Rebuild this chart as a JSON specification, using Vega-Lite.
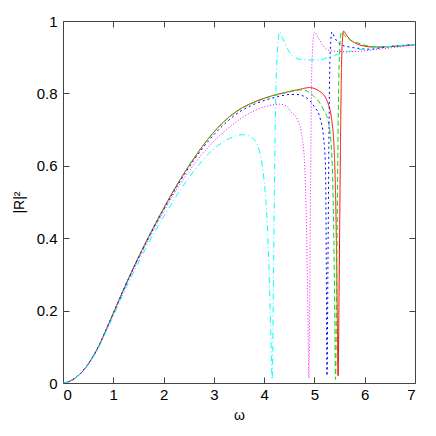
{
  "$schema": "https://vega.github.io/schema/vega-lite/v6.json",
  "width": 352,
  "height": 362,
  "autosize": "none",
  "padding": {"left": 63, "top": 21, "right": 21, "bottom": 53},
  "background": "white",
  "config": {
    "view": {"stroke": "#444444", "strokeWidth": 1},
    "axis": {
      "grid": false,
      "domain": false,
      "tickColor": "#444444",
      "tickSize": -6,
      "labelFont": "Liberation Sans",
      "labelFontSize": 15,
      "labelColor": "#000000",
      "titleFont": "Liberation Sans",
      "titleFontSize": 14,
      "titleFontWeight": "normal",
      "titleColor": "#000000"
    }
  },
  "datasets": {
    "curves": [
      {"s": "a", "w": 0, "r": 0}, {"s": "a", "w": 0.1, "r": 0.003}, {"s": "a", "w": 0.2, "r": 0.01}, {"s": "a", "w": 0.3, "r": 0.02}, {"s": "a", "w": 0.4, "r": 0.034}, {"s": "a", "w": 0.5, "r": 0.052}, {"s": "a", "w": 0.6, "r": 0.074}, {"s": "a", "w": 0.7, "r": 0.099}, {"s": "a", "w": 0.85, "r": 0.145}, {"s": "a", "w": 1.0, "r": 0.193}, {"s": "a", "w": 1.2, "r": 0.257}, {"s": "a", "w": 1.4, "r": 0.318}, {"s": "a", "w": 1.7, "r": 0.403}, {"s": "a", "w": 2.0, "r": 0.482}, {"s": "a", "w": 2.3, "r": 0.555}, {"s": "a", "w": 2.6, "r": 0.62}, {"s": "a", "w": 2.9, "r": 0.677}, {"s": "a", "w": 3.2, "r": 0.722}, {"s": "a", "w": 3.5, "r": 0.755}, {"s": "a", "w": 3.8, "r": 0.776}, {"s": "a", "w": 4.1, "r": 0.791}, {"s": "a", "w": 4.4, "r": 0.802}, {"s": "a", "w": 4.7, "r": 0.811}, {"s": "a", "w": 4.9, "r": 0.816}, {"s": "a", "w": 5.1, "r": 0.806}, {"s": "a", "w": 5.25, "r": 0.78}, {"s": "a", "w": 5.35, "r": 0.72}, {"s": "a", "w": 5.4, "r": 0.62}, {"s": "a", "w": 5.43, "r": 0.45}, {"s": "a", "w": 5.45, "r": 0.25}, {"s": "a", "w": 5.47, "r": 0.02}, {"s": "a", "w": 5.49, "r": 0.25}, {"s": "a", "w": 5.51, "r": 0.55}, {"s": "a", "w": 5.53, "r": 0.8}, {"s": "a", "w": 5.55, "r": 0.93}, {"s": "a", "w": 5.58, "r": 0.972}, {"s": "a", "w": 5.62, "r": 0.965}, {"s": "a", "w": 5.7, "r": 0.95}, {"s": "a", "w": 5.8, "r": 0.94}, {"s": "a", "w": 5.95, "r": 0.932}, {"s": "a", "w": 6.2, "r": 0.928}, {"s": "a", "w": 6.6, "r": 0.93}, {"s": "a", "w": 7.0, "r": 0.935},

      {"s": "b", "w": 0, "r": 0}, {"s": "b", "w": 0.1, "r": 0.003}, {"s": "b", "w": 0.2, "r": 0.01}, {"s": "b", "w": 0.3, "r": 0.02}, {"s": "b", "w": 0.4, "r": 0.034}, {"s": "b", "w": 0.5, "r": 0.052}, {"s": "b", "w": 0.6, "r": 0.074}, {"s": "b", "w": 0.7, "r": 0.099}, {"s": "b", "w": 0.85, "r": 0.145}, {"s": "b", "w": 1.0, "r": 0.193}, {"s": "b", "w": 1.2, "r": 0.257}, {"s": "b", "w": 1.4, "r": 0.318}, {"s": "b", "w": 1.7, "r": 0.403}, {"s": "b", "w": 2.0, "r": 0.482}, {"s": "b", "w": 2.3, "r": 0.555}, {"s": "b", "w": 2.6, "r": 0.62}, {"s": "b", "w": 2.9, "r": 0.676}, {"s": "b", "w": 3.2, "r": 0.721}, {"s": "b", "w": 3.5, "r": 0.754}, {"s": "b", "w": 3.8, "r": 0.775}, {"s": "b", "w": 4.1, "r": 0.79}, {"s": "b", "w": 4.4, "r": 0.801}, {"s": "b", "w": 4.6, "r": 0.807}, {"s": "b", "w": 4.75, "r": 0.81}, {"s": "b", "w": 4.99, "r": 0.792}, {"s": "b", "w": 5.18, "r": 0.755}, {"s": "b", "w": 5.28, "r": 0.719}, {"s": "b", "w": 5.35, "r": 0.617}, {"s": "b", "w": 5.38, "r": 0.45}, {"s": "b", "w": 5.4, "r": 0.25}, {"s": "b", "w": 5.42, "r": 0.01}, {"s": "b", "w": 5.44, "r": 0.25}, {"s": "b", "w": 5.46, "r": 0.55}, {"s": "b", "w": 5.48, "r": 0.8}, {"s": "b", "w": 5.51, "r": 0.94}, {"s": "b", "w": 5.54, "r": 0.97}, {"s": "b", "w": 5.6, "r": 0.96}, {"s": "b", "w": 5.7, "r": 0.948}, {"s": "b", "w": 5.85, "r": 0.94}, {"s": "b", "w": 6.0, "r": 0.933}, {"s": "b", "w": 6.3, "r": 0.928}, {"s": "b", "w": 6.6, "r": 0.93}, {"s": "b", "w": 7.0, "r": 0.935},

      {"s": "c", "w": 0, "r": 0}, {"s": "c", "w": 0.1, "r": 0.003}, {"s": "c", "w": 0.2, "r": 0.01}, {"s": "c", "w": 0.3, "r": 0.02}, {"s": "c", "w": 0.4, "r": 0.034}, {"s": "c", "w": 0.5, "r": 0.052}, {"s": "c", "w": 0.6, "r": 0.074}, {"s": "c", "w": 0.7, "r": 0.099}, {"s": "c", "w": 0.85, "r": 0.145}, {"s": "c", "w": 1.0, "r": 0.192}, {"s": "c", "w": 1.2, "r": 0.256}, {"s": "c", "w": 1.4, "r": 0.317}, {"s": "c", "w": 1.7, "r": 0.401}, {"s": "c", "w": 2.0, "r": 0.479}, {"s": "c", "w": 2.3, "r": 0.551}, {"s": "c", "w": 2.6, "r": 0.615}, {"s": "c", "w": 2.9, "r": 0.67}, {"s": "c", "w": 3.2, "r": 0.714}, {"s": "c", "w": 3.5, "r": 0.748}, {"s": "c", "w": 3.8, "r": 0.77}, {"s": "c", "w": 4.06, "r": 0.783}, {"s": "c", "w": 4.3, "r": 0.792}, {"s": "c", "w": 4.52, "r": 0.797}, {"s": "c", "w": 4.65, "r": 0.797}, {"s": "c", "w": 4.79, "r": 0.792}, {"s": "c", "w": 4.99, "r": 0.765}, {"s": "c", "w": 5.12, "r": 0.728}, {"s": "c", "w": 5.18, "r": 0.68}, {"s": "c", "w": 5.22, "r": 0.6}, {"s": "c", "w": 5.235, "r": 0.35}, {"s": "c", "w": 5.25, "r": 0.02}, {"s": "c", "w": 5.27, "r": 0.35}, {"s": "c", "w": 5.29, "r": 0.7}, {"s": "c", "w": 5.31, "r": 0.9}, {"s": "c", "w": 5.35, "r": 0.97}, {"s": "c", "w": 5.4, "r": 0.955}, {"s": "c", "w": 5.52, "r": 0.935}, {"s": "c", "w": 5.7, "r": 0.928}, {"s": "c", "w": 5.85, "r": 0.925}, {"s": "c", "w": 6.1, "r": 0.922}, {"s": "c", "w": 6.4, "r": 0.928}, {"s": "c", "w": 7.0, "r": 0.935},

      {"s": "d", "w": 0, "r": 0}, {"s": "d", "w": 0.1, "r": 0.003}, {"s": "d", "w": 0.2, "r": 0.01}, {"s": "d", "w": 0.3, "r": 0.02}, {"s": "d", "w": 0.4, "r": 0.033}, {"s": "d", "w": 0.5, "r": 0.051}, {"s": "d", "w": 0.6, "r": 0.073}, {"s": "d", "w": 0.7, "r": 0.098}, {"s": "d", "w": 0.85, "r": 0.143}, {"s": "d", "w": 1.0, "r": 0.19}, {"s": "d", "w": 1.2, "r": 0.253}, {"s": "d", "w": 1.4, "r": 0.313}, {"s": "d", "w": 1.7, "r": 0.396}, {"s": "d", "w": 2.0, "r": 0.473}, {"s": "d", "w": 2.3, "r": 0.543}, {"s": "d", "w": 2.6, "r": 0.603}, {"s": "d", "w": 2.9, "r": 0.653}, {"s": "d", "w": 3.2, "r": 0.694}, {"s": "d", "w": 3.5, "r": 0.727}, {"s": "d", "w": 3.8, "r": 0.752}, {"s": "d", "w": 4.06, "r": 0.765}, {"s": "d", "w": 4.3, "r": 0.77}, {"s": "d", "w": 4.45, "r": 0.765}, {"s": "d", "w": 4.52, "r": 0.751}, {"s": "d", "w": 4.66, "r": 0.728}, {"s": "d", "w": 4.76, "r": 0.673}, {"s": "d", "w": 4.8, "r": 0.617}, {"s": "d", "w": 4.84, "r": 0.45}, {"s": "d", "w": 4.87, "r": 0.2}, {"s": "d", "w": 4.89, "r": 0.014}, {"s": "d", "w": 4.91, "r": 0.3}, {"s": "d", "w": 4.93, "r": 0.65}, {"s": "d", "w": 4.95, "r": 0.88}, {"s": "d", "w": 5.0, "r": 0.97}, {"s": "d", "w": 5.05, "r": 0.96}, {"s": "d", "w": 5.18, "r": 0.93}, {"s": "d", "w": 5.32, "r": 0.918}, {"s": "d", "w": 5.7, "r": 0.915}, {"s": "d", "w": 6.2, "r": 0.921}, {"s": "d", "w": 6.6, "r": 0.927}, {"s": "d", "w": 7.0, "r": 0.933},

      {"s": "e", "w": 0, "r": 0}, {"s": "e", "w": 0.1, "r": 0.003}, {"s": "e", "w": 0.2, "r": 0.01}, {"s": "e", "w": 0.3, "r": 0.019}, {"s": "e", "w": 0.4, "r": 0.032}, {"s": "e", "w": 0.5, "r": 0.05}, {"s": "e", "w": 0.6, "r": 0.071}, {"s": "e", "w": 0.7, "r": 0.095}, {"s": "e", "w": 0.85, "r": 0.139}, {"s": "e", "w": 1.0, "r": 0.185}, {"s": "e", "w": 1.2, "r": 0.247}, {"s": "e", "w": 1.4, "r": 0.305}, {"s": "e", "w": 1.7, "r": 0.386}, {"s": "e", "w": 2.0, "r": 0.459}, {"s": "e", "w": 2.3, "r": 0.526}, {"s": "e", "w": 2.6, "r": 0.585}, {"s": "e", "w": 2.93, "r": 0.638}, {"s": "e", "w": 3.2, "r": 0.667}, {"s": "e", "w": 3.4, "r": 0.681}, {"s": "e", "w": 3.59, "r": 0.686}, {"s": "e", "w": 3.75, "r": 0.678}, {"s": "e", "w": 3.86, "r": 0.659}, {"s": "e", "w": 3.94, "r": 0.62}, {"s": "e", "w": 3.99, "r": 0.571}, {"s": "e", "w": 4.06, "r": 0.443}, {"s": "e", "w": 4.1, "r": 0.3}, {"s": "e", "w": 4.13, "r": 0.148}, {"s": "e", "w": 4.16, "r": 0.01}, {"s": "e", "w": 4.19, "r": 0.35}, {"s": "e", "w": 4.22, "r": 0.7}, {"s": "e", "w": 4.25, "r": 0.88}, {"s": "e", "w": 4.31, "r": 0.97}, {"s": "e", "w": 4.36, "r": 0.955}, {"s": "e", "w": 4.5, "r": 0.915}, {"s": "e", "w": 4.72, "r": 0.894}, {"s": "e", "w": 5.05, "r": 0.892}, {"s": "e", "w": 5.4, "r": 0.905}, {"s": "e", "w": 5.72, "r": 0.917}, {"s": "e", "w": 6.2, "r": 0.926}, {"s": "e", "w": 6.6, "r": 0.931}, {"s": "e", "w": 7.0, "r": 0.935}
    ]
  },
  "data": {"name": "curves"},
  "layer": [
    {
      "mark": {"type": "line", "strokeWidth": 1, "interpolate": "monotone", "clip": true},
      "encoding": {
        "x": {
          "field": "w", "type": "quantitative",
          "scale": {"domain": [0, 7], "nice": false, "zero": false},
          "axis": {"orient": "bottom", "values": [0, 1, 2, 3, 4, 5, 6, 7], "title": "ω", "labelPadding": 10, "titlePadding": 6}
        },
        "y": {
          "field": "r", "type": "quantitative",
          "scale": {"domain": [0, 1], "nice": false},
          "axis": {"orient": "left", "values": [0, 0.2, 0.4, 0.6, 0.8, 1], "format": "~g", "title": "|R|²", "labelPadding": 12, "titlePadding": 10}
        },
        "color": {
          "field": "s", "type": "nominal", "legend": null,
          "scale": {"domain": ["e", "d", "c", "b", "a"], "range": ["#00ffff", "#ff00ff", "#0000ff", "#00e000", "#ff0000"]}
        },
        "strokeDash": {
          "field": "s", "type": "nominal", "legend": null,
          "scale": {"domain": ["e", "d", "c", "b", "a"], "range": [[6, 3, 1, 3], [1, 2], [2, 3], [5, 3], [1, 0]]}
        }
      }
    },
    {
      "mark": {"type": "line", "opacity": 0},
      "encoding": {
        "x": {"field": "w", "type": "quantitative", "axis": {"orient": "top", "values": [1, 2, 3, 4, 5, 6], "labels": false, "title": null}},
        "y": {"field": "r", "type": "quantitative", "axis": {"orient": "right", "values": [0.2, 0.4, 0.6, 0.8], "labels": false, "title": null}}
      }
    }
  ],
  "resolve": {"axis": {"x": "independent", "y": "independent"}}
}
